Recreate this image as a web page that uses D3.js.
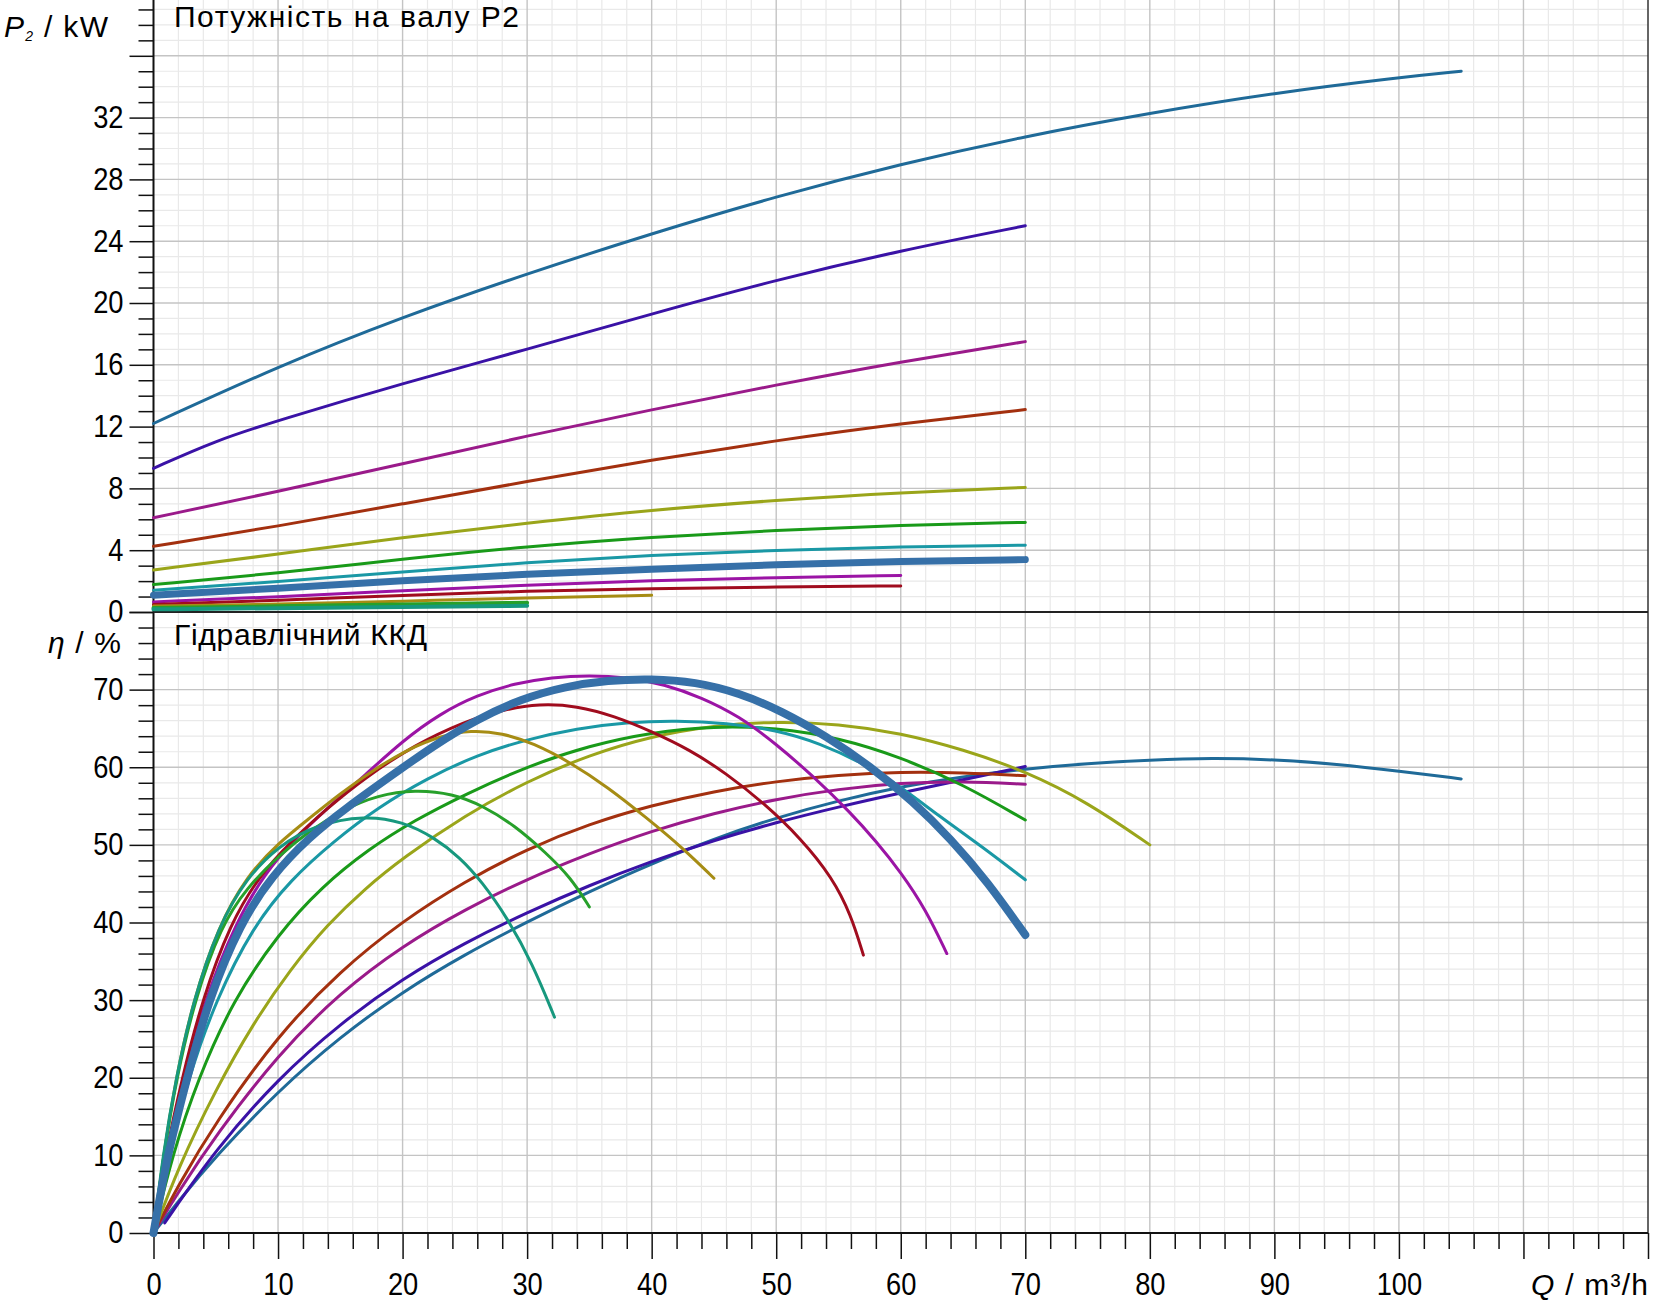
<!DOCTYPE html>
<html>
<head>
<meta charset="utf-8">
<script src="https://cdn.jsdelivr.net/npm/d3@7"></script>
<style>
  html, body { margin: 0; padding: 0; background: #fff; }
  svg { display: block; font-family: "Liberation Sans", Arial, sans-serif; }
</style>
</head>
<body>
<div id="chart"></div>
<script>
// tick values / labels
const flowTicks = [0, 10, 20, 30, 40, 50, 60, 70, 80, 90, 100, 110, 120];
const flowTickLabels = [0, 10, 20, 30, 40, 50, 60, 70, 80, 90, 100];
const p2Ticks = [0, 4, 8, 12, 16, 20, 24, 28, 32, 36];
const p2TickLabels = [0, 4, 8, 12, 16, 20, 24, 28, 32];
const etaTicks = [0, 10, 20, 30, 40, 50, 60, 70, 80];
const etaTickLabels = [0, 10, 20, 30, 40, 50, 60, 70];

// pumps, smallest to largest: [Q m3/h, value]
const pumpNames = ["01", "02", "03", "04", "05", "06", "07", "08", "09", "10", "11", "12", "13"];

const p2Pump01 = [[0, 0.17], [10, 0.25], [20, 0.33], [30, 0.4]];
const p2Pump02 = [[0, 0.26], [10, 0.36], [20, 0.5], [30, 0.6]];
const p2Pump03 = [[0, 0.39], [10, 0.5], [20, 0.7], [30, 0.92], [40, 1.08]];
const p2Pump04 = [[0, 0.48], [10, 0.76], [20, 1.08], [30, 1.36], [40, 1.52], [50, 1.62], [60, 1.69]];
const p2Pump05 = [[0, 0.65], [10, 0.98], [20, 1.38], [30, 1.75], [40, 2.05], [50, 2.23], [60, 2.36]];
const p2Pump06 = [[0, 1.09], [10, 1.52], [20, 2.05], [30, 2.45], [40, 2.77], [50, 3.07], [60, 3.29], [70, 3.39]];
const p2Pump07 = [[0, 1.41], [10, 1.96], [20, 2.6], [30, 3.2], [40, 3.68], [50, 4.0], [60, 4.22], [70, 4.32]];
const p2Pump08 = [[0, 1.78], [10, 2.5], [20, 3.43], [30, 4.24], [40, 4.85], [50, 5.3], [60, 5.62], [70, 5.8]];
const p2Pump09 = [[0, 2.72], [10, 3.74], [20, 4.83], [30, 5.75], [40, 6.6], [50, 7.24], [60, 7.74], [70, 8.06]];
const p2Pump10 = [[0, 4.25], [10, 5.55], [20, 7.0], [30, 8.45], [40, 9.85], [50, 11.1], [60, 12.2], [70, 13.1]];
const p2Pump11 = [[0, 6.1], [10, 7.8], [20, 9.6], [30, 11.4], [40, 13.1], [50, 14.7], [60, 16.2], [70, 17.5]];
const p2Pump12 = [[0, 9.3], [5, 11.1], [10, 12.4], [20, 14.8], [30, 17.0], [40, 19.3], [50, 21.5], [60, 23.4],
  [70, 25.0]];
const p2Pump13 = [[0, 12.2], [10, 15.9], [20, 19.1], [30, 21.9], [40, 24.5], [50, 26.9], [60, 29.0], [70, 30.8],
  [80, 32.3], [90, 33.6], [100, 34.6], [105, 35.0]];

const etaPump01 = [[0, 0], [0.75, 10], [1.8, 20], [3.2, 30], [5.2, 39.5], [7.5, 45.8], [10, 49.8], [13, 52.6],
  [17, 53.8], [20, 53], [22.5, 51], [24.6, 48.4], [26.4, 45.2], [28.4, 40.6], [30.4, 34.8], [32.2, 27.8]];
const etaPump02 = [[0, 0], [0.8, 10], [1.85, 20], [3.3, 30], [5.4, 39.5], [7.5, 44.5], [10, 48.5], [12.5, 51.8],
  [15.3, 54.6], [18, 56.4], [21, 57.1], [24, 56.6], [26.5, 55], [29, 52.5], [31.5, 49], [33.5, 45.8], [35, 42]];
const etaPump03 = [[0, 0], [0.8, 10], [1.8, 20], [3.2, 30], [5.2, 39.5], [7.5, 46], [10, 50.2], [12.5, 53.4],
  [15, 56.6], [17.5, 59.5], [20.5, 62.4], [23, 64], [25.5, 64.8], [28, 64.4], [30.5, 63.1], [33.5, 60.6],
  [36.5, 57.4], [39.5, 53.6], [42.5, 49.6], [45, 45.7]];
const etaPump04 = [[0, 0], [0.94, 10], [2.3, 20], [3.9, 30], [6.2, 40], [8.5, 46], [11, 50.4], [14, 54.8],
  [17.1, 58.8], [21, 62.9], [25, 65.9], [28, 67.4], [31, 68.2], [34, 67.9], [37, 66.6], [40, 64.6], [43, 62.3],
  [46, 59.2], [49, 55.4], [52, 50.8], [54.5, 45.8], [56, 41], [57, 35.8]];
const etaPump05 = [[0, 0], [1, 10], [2.4, 20], [4.1, 30], [6.6, 40], [9, 46.5], [11.5, 51], [14, 54.8], [17, 59],
  [20, 63.4], [23, 66.9], [26, 69.3], [29, 70.8], [32, 71.6], [35, 71.85], [38, 71.6], [41, 70.7], [44, 69],
  [47, 66.6], [50, 63], [53, 58.8], [56, 54.1], [58, 50.5], [60, 46.5], [62, 41.7], [63.7, 36]];
const etaPump06 = [[0, 0], [1.1, 10], [2.7, 20], [4.4, 30], [7, 40], [9.5, 46], [12.5, 51], [15.5, 54.8], [19, 58.8],
  [22.5, 62.8], [26, 66.2], [29.5, 68.8], [33, 70.4], [36.5, 71.2], [40, 71.4], [43.5, 71], [47, 69.6],
  [50.5, 67.2], [54, 64], [57.5, 60.2], [61, 55.6], [64, 50.8], [67, 45.2], [70, 38.4]];
const etaPump07 = [[0, 0], [1.2, 10], [2.8, 20], [5, 30], [8, 39.5], [11, 45.5], [14.5, 50.5], [18, 54.8], [22, 58.6],
  [26, 61.6], [30, 63.6], [34, 65], [38, 65.8], [42, 66], [46, 65.7], [50, 64.8], [53.5, 63.1], [57, 60.5],
  [60, 57.5], [63, 53.8], [66.5, 49.8], [70, 45.5]];
const etaPump08 = [[0, 0], [1.5, 10], [3.6, 20], [6.4, 30], [10, 38.5], [13.5, 44.6], [17.3, 49.5], [21, 53.2],
  [25, 56.5], [30, 60.1], [35, 62.8], [40, 64.5], [45, 65.3], [50, 65.1], [55, 63.8], [60, 61.3], [65, 57.8],
  [70, 53.2]];
const etaPump09 = [[0, 0], [2, 8.5], [5, 18.5], [8, 27], [11, 34], [14, 39.8], [17, 44.4], [20, 48.3], [25, 53.8],
  [30, 58.2], [35, 61.6], [40, 64], [45, 65.4], [50, 65.9], [55, 65.6], [60, 64.4], [65, 62.3], [70, 59.5],
  [75, 55.5], [80, 50]];
const etaPump10 = [[0, 0], [2, 6.2], [5, 14.3], [10, 25.5], [15, 33.8], [20, 40.2], [25, 45.3], [30, 49.5],
  [35, 52.7], [40, 55.1], [45, 56.9], [50, 58.2], [55, 59], [60, 59.4], [65, 59.3], [70, 58.9]];
const etaPump11 = [[0, 0], [2, 5.3], [5, 12.6], [10, 23], [15, 31], [20, 37], [25, 41.7], [30, 45.6], [35, 48.9],
  [40, 51.8], [45, 54.1], [50, 55.9], [55, 57.2], [60, 58], [65, 58.2], [70, 57.8]];
const etaPump12 = [[0.9, 1.3], [5, 10.8], [10, 19.9], [15, 27], [20, 32.8], [25, 37.4], [30, 41.3], [35, 44.8],
  [40, 47.9], [45, 50.6], [50, 52.9], [55, 54.9], [60, 56.7], [65, 58.4], [70, 60.1]];
const etaPump13 = [[0, 0], [2, 4.1], [5, 9.9], [10, 18.3], [15, 25.3], [20, 31.1], [25, 35.9], [30, 40.1], [35, 44],
  [40, 47.6], [45, 50.8], [50, 53.5], [55, 55.7], [60, 57.5], [65, 58.8], [70, 59.8], [75, 60.5], [80, 60.95],
  [85, 61.2], [90, 61], [95, 60.4], [100, 59.5], [105, 58.5]];

(function () {
  const W = 1658;
  const H = 1303;
  const left = 153.5;
  const right = 1648;
  const split = 612; // P2 = 0 and eta = 80
  const bottom = 1233;
  const labelFont = '"Liberation Sans", Arial, sans-serif';

  const pumpColours = ["#17987e", "#27a02a", "#a68c14", "#a00c1e", "#9b14a5", "#3670a8", "#1a98a5",
    "#199a19", "#9aa51a", "#a3300f", "#9a1a8a", "#3a12a6", "#1f6a98"];
  const pumpWidths = [3, 3, 3, 3, 3, 8, 3, 3, 3, 3, 3, 3, 3];
  const p2Widths = [4, 4, 3, 3, 3, 7, 3, 3, 3, 3, 3, 3, 3];

  const p2Series = [p2Pump01, p2Pump02, p2Pump03, p2Pump04, p2Pump05, p2Pump06, p2Pump07,
    p2Pump08, p2Pump09, p2Pump10, p2Pump11, p2Pump12, p2Pump13];
  const etaSeries = [etaPump01, etaPump02, etaPump03, etaPump04, etaPump05, etaPump06, etaPump07,
    etaPump08, etaPump09, etaPump10, etaPump11, etaPump12, etaPump13];

  const pumps = pumpNames.map((name, i) => ({
    name,
    p2: p2Series[i],
    eta: etaSeries[i],
    colour: pumpColours[i],
    width: pumpWidths[i],
    p2Width: p2Widths[i],
  }));
  // big ones first, highlighted pump last
  const drawOrder = [12, 11, 10, 9, 8, 7, 6, 4, 3, 2, 1, 0, 5];

  const x = d3.scaleLinear().domain([0, 120]).range([left, right]);
  const yP = d3.scaleLinear().domain([0, split / 15.45]).range([split, 0]);
  const yE = d3.scaleLinear().domain([0, 80]).range([bottom, split]);

  const svg = d3.select("#chart").append("svg")
    .attr("width", W).attr("height", H)
    .attr("viewBox", `0 0 ${W} ${H}`);

  svg.append("rect").attr("width", W).attr("height", H).attr("fill", "#fff");

  // grid
  const grid = svg.append("g").attr("class", "grid");
  const minorQ = d3.range(0, 121, 2).filter((d) => d % 10 !== 0);
  const minorP = d3.range(0, 40, 1).filter((d) => d % 4 !== 0);
  const minorE = d3.range(0, 80, 2).filter((d) => d % 10 !== 0);

  grid.selectAll("line.mq").data(minorQ).join("line")
    .attr("x1", (d) => x(d)).attr("x2", (d) => x(d))
    .attr("y1", 0).attr("y2", bottom)
    .attr("stroke", "#e9e9e9").attr("stroke-width", 1.2);
  grid.selectAll("line.mp").data(minorP).join("line")
    .attr("x1", left).attr("x2", right)
    .attr("y1", (d) => yP(d)).attr("y2", (d) => yP(d))
    .attr("stroke", "#e9e9e9").attr("stroke-width", 1.2);
  grid.selectAll("line.me").data(minorE).join("line")
    .attr("x1", left).attr("x2", right)
    .attr("y1", (d) => yE(d)).attr("y2", (d) => yE(d))
    .attr("stroke", "#e9e9e9").attr("stroke-width", 1.2);

  const majorLine = { stroke: "#c4c4c4", width: 1.4 };
  grid.selectAll("line.Mq").data(flowTicks.slice(1, -1)).join("line")
    .attr("x1", (d) => x(d)).attr("x2", (d) => x(d))
    .attr("y1", 0).attr("y2", bottom)
    .attr("stroke", majorLine.stroke).attr("stroke-width", majorLine.width);
  grid.selectAll("line.Mp").data(p2Ticks.slice(1)).join("line")
    .attr("x1", left).attr("x2", right)
    .attr("y1", (d) => yP(d)).attr("y2", (d) => yP(d))
    .attr("stroke", majorLine.stroke).attr("stroke-width", majorLine.width);
  grid.selectAll("line.Me").data(etaTicks.slice(1, -1)).join("line")
    .attr("x1", left).attr("x2", right)
    .attr("y1", (d) => yE(d)).attr("y2", (d) => yE(d))
    .attr("stroke", majorLine.stroke).attr("stroke-width", majorLine.width);

  // axes
  function styleAxis(g) {
    g.select(".domain").remove();
    g.selectAll(".tick line").attr("stroke", "#111").attr("stroke-width", 1.5);
    g.selectAll(".tick text")
      .attr("fill", "#000")
      .style("font-size", "31px")
      .style("font-family", labelFont)
      .each(function () {
        // the chart's digits are a little narrower than Arial
        const len = this.getComputedTextLength();
        if (len > 0) d3.select(this).attr("textLength", len * 0.88).attr("lengthAdjust", "spacingAndGlyphs");
      });
  }

  svg.append("g").attr("transform", `translate(${left},0)`)
    .call(d3.axisLeft(yP).tickValues(minorP).tickSize(15).tickFormat(""))
    .call(styleAxis);
  svg.append("g").attr("transform", `translate(${left},0)`)
    .call(d3.axisLeft(yP).tickValues(p2Ticks).tickSize(24).tickPadding(6)
      .tickFormat((d) => (p2TickLabels.includes(d) ? d : "")))
    .call(styleAxis);

  svg.append("g").attr("transform", `translate(${left},0)`)
    .call(d3.axisLeft(yE).tickValues(minorE).tickSize(15).tickFormat(""))
    .call(styleAxis);
  svg.append("g").attr("transform", `translate(${left},0)`)
    .call(d3.axisLeft(yE).tickValues(etaTicks).tickSize(24).tickPadding(6)
      .tickFormat((d) => (etaTickLabels.includes(d) ? d : "")))
    .call(styleAxis);

  svg.append("g").attr("transform", `translate(0,${bottom})`)
    .call(d3.axisBottom(x).tickValues(minorQ).tickSize(16).tickFormat(""))
    .call(styleAxis);
  svg.append("g").attr("transform", `translate(0,${bottom})`)
    .call(d3.axisBottom(x).tickValues(flowTicks).tickSize(26).tickPadding(14)
      .tickFormat((d) => (flowTickLabels.includes(d) ? d : "")))
    .call(styleAxis);

  // frame lines
  svg.append("line").attr("x1", left).attr("x2", left).attr("y1", 0).attr("y2", bottom)
    .attr("stroke", "#111").attr("stroke-width", 2);
  svg.append("line").attr("x1", right).attr("x2", right).attr("y1", 0).attr("y2", bottom)
    .attr("stroke", "#333").attr("stroke-width", 1.5);
  svg.append("line").attr("x1", left).attr("x2", right).attr("y1", split).attr("y2", split)
    .attr("stroke", "#222").attr("stroke-width", 2);
  svg.append("line").attr("x1", left).attr("x2", right).attr("y1", bottom).attr("y2", bottom)
    .attr("stroke", "#111").attr("stroke-width", 2);

  // curves
  const lineP = d3.line().x((d) => x(d[0])).y((d) => yP(d[1])).curve(d3.curveBasis);
  const lineE = d3.line().x((d) => x(d[0])).y((d) => yE(d[1])).curve(d3.curveBasis);
  const ordered = drawOrder.map((i) => pumps[i]);

  svg.append("g").selectAll("path").data(ordered).join("path")
    .attr("d", (d) => lineP(d.p2))
    .attr("fill", "none")
    .attr("stroke", (d) => d.colour)
    .attr("stroke-width", (d) => d.p2Width)
    .attr("stroke-linecap", "round");

  svg.append("g").selectAll("path").data(ordered).join("path")
    .attr("d", (d) => lineE(d.eta))
    .attr("fill", "none")
    .attr("stroke", (d) => d.colour)
    .attr("stroke-width", (d) => d.width)
    .attr("stroke-linecap", "round");

  // labels
  const font = "30px";
  svg.append("text").attr("x", 174).attr("y", 27).style("font-size", "30px")
    .attr("textLength", 345).attr("lengthAdjust", "spacing")
    .text("Потужність на валу P2");
  svg.append("text").attr("x", 174).attr("y", 645).style("font-size", "30px")
    .attr("textLength", 253).attr("lengthAdjust", "spacing")
    .text("Гідравлічний ККД");

  const pLabel = svg.append("text").attr("x", 4).attr("y", 37).style("font-size", font)
    .attr("textLength", 104).attr("lengthAdjust", "spacing");
  pLabel.append("tspan").style("font-style", "italic").text("P");
  pLabel.append("tspan").attr("dy", 4).style("font-size", "14px").style("font-style", "italic").text("2");
  pLabel.append("tspan").attr("dy", -4).text(" / kW");

  const eLabel = svg.append("text").attr("x", 48).attr("y", 653).style("font-size", font)
    .attr("textLength", 73).attr("lengthAdjust", "spacing");
  eLabel.append("tspan").style("font-style", "italic").text("η");
  eLabel.append("tspan").text(" / %");

  const qLabel = svg.append("text").attr("x", 1648).attr("y", 1295)
    .attr("text-anchor", "end").style("font-size", font)
    .attr("textLength", 117).attr("lengthAdjust", "spacing");
  qLabel.append("tspan").style("font-style", "italic").text("Q");
  qLabel.append("tspan").text(" / m³/h");
})();
</script>
</body>
</html>
